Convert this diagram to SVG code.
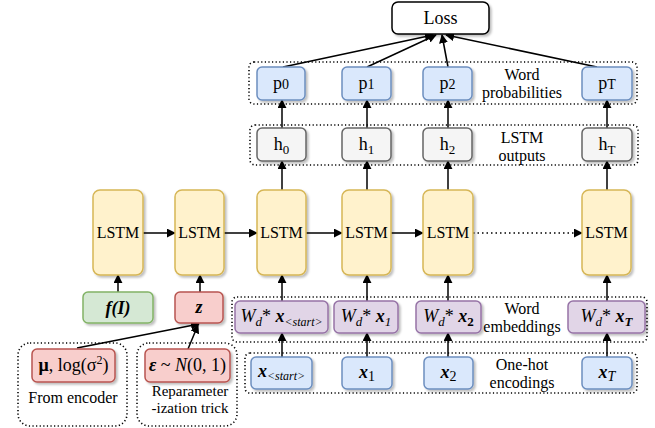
<svg xmlns="http://www.w3.org/2000/svg" width="655" height="428" viewBox="0 0 655 428" font-family="'Liberation Serif', 'Times New Roman', Times, serif">
<style>
text, tspan{font-family:"Liberation Serif","Times New Roman",Times,serif}
text{fill:#000}
.lbl{font-size:16px;text-anchor:middle}
.big{font-size:18px;text-anchor:middle}
.lstm{fill:#fff2cc;stroke:#d6b656;stroke-width:1.5}
.hb{fill:#f5f5f5;stroke:#666666;stroke-width:1.5}
.pb{fill:#dae8fc;stroke:#6c8ebf;stroke-width:1.5}
.eb{fill:#e1d5e7;stroke:#9673a6;stroke-width:1.5}
.gb{fill:#d5e8d4;stroke:#82b366;stroke-width:1.5}
.rb{fill:#f8cecc;stroke:#b85450;stroke-width:1.5}
.cont{fill:none;stroke:#000;stroke-width:1.6;stroke-dasharray:1.2 2.4}
.ar{fill:none;stroke:#000;stroke-width:1.5;marker-end:url(#ah)}
.ard{fill:none;stroke:#000;stroke-width:1.5;stroke-dasharray:1.5 3;marker-end:url(#ah)}
.sh{filter:url(#ds)}
</style>
<defs>
<marker id="ah" viewBox="0 0 10 10" refX="9" refY="5" markerWidth="6" markerHeight="6" markerUnits="strokeWidth" orient="auto">
<path d="M0,0 L10,5 L0,10 z" fill="#000"/>
</marker>
<filter id="ds" x="-20%" y="-20%" width="150%" height="150%">
<feDropShadow dx="2" dy="2" stdDeviation="1" flood-color="#000" flood-opacity="0.25"/>
</filter>
</defs>

<g id="containers">
<rect class="cont" x="249" y="62" width="388" height="42" rx="5"/>
<rect class="cont" x="250" y="125" width="388" height="40" rx="5"/>
<rect class="cont" x="232" y="297" width="415" height="45" rx="5"/>
<rect class="cont" x="245" y="353" width="392" height="40" rx="5"/>
<rect class="cont" x="18" y="343" width="109" height="83" rx="12"/>
<rect class="cont" x="137" y="343" width="100" height="83" rx="12"/>
</g>

<g id="connectors">
<path class="ar" d="M283,67 L433,35"/>
<path class="ar" d="M367,67 L436,35"/>
<path class="ar" d="M448,67 L442,35"/>
<path class="ar" d="M597,67 L446,35"/>
<path class="ar" d="M282,128 V100"/>
<path class="ar" d="M367,128 V100"/>
<path class="ar" d="M448,128 V100"/>
<path class="ar" d="M607,128 V100"/>
<path class="ar" d="M282,190 V161"/>
<path class="ar" d="M367,190 V161"/>
<path class="ar" d="M448,190 V161"/>
<path class="ar" d="M607,190 V161"/>
<path class="ar" d="M143,233 H175"/>
<path class="ar" d="M224,233 H257"/>
<path class="ar" d="M305,233 H342"/>
<path class="ar" d="M391,233 H423"/>
<path class="ard" d="M473,233 H582"/>
<path class="ar" d="M118,292 V275"/>
<path class="ar" d="M200,292 V275"/>
<path class="ar" d="M282,301 V275"/>
<path class="ar" d="M367,301 V275"/>
<path class="ar" d="M448,301 V275"/>
<path class="ar" d="M607,301 V275"/>
<path class="ar" d="M282,357 V333"/>
<path class="ar" d="M367,357 V333"/>
<path class="ar" d="M448,357 V333"/>
<path class="ar" d="M607,357 V333"/>
<path class="ar" d="M77,348 L199,324"/>
<path class="ar" d="M188,349 L198,325"/>
</g>

<g id="loss">
<rect x="392" y="2" width="97" height="32" rx="6" fill="#fff" stroke="#000" stroke-width="1.5" class="sh"/>
<text class="big" x="440.5" y="24">Loss</text>
</g>

<g id="p0"><rect class="pb sh" x="257" y="67" width="48" height="33" rx="5"/><text class="big" x="281" y="89">p<tspan font-size="14">0</tspan></text></g>
<g id="p1"><rect class="pb sh" x="342" y="67" width="49" height="33" rx="5"/><text class="big" x="366.5" y="89">p<tspan font-size="14">1</tspan></text></g>
<g id="p2"><rect class="pb sh" x="423" y="67" width="49" height="33" rx="5"/><text class="big" x="447.5" y="89">p<tspan font-size="14">2</tspan></text></g>
<g id="pT"><rect class="pb sh" x="582" y="67" width="50" height="33" rx="5"/><text class="big" x="607" y="89">p<tspan font-size="14">T</tspan></text></g>
<g id="lbl-prob"><text class="lbl" x="522" y="80">Word</text><text class="lbl" x="522" y="98">probabilities</text></g>

<g id="h0"><rect class="hb sh" x="257" y="128" width="49" height="33" rx="5"/><text class="big" x="281.5" y="150">h<tspan font-size="13" dy="4">0</tspan></text></g>
<g id="h1"><rect class="hb sh" x="342" y="128" width="49" height="33" rx="5"/><text class="big" x="366.5" y="150">h<tspan font-size="13" dy="4">1</tspan></text></g>
<g id="h2"><rect class="hb sh" x="423" y="128" width="49" height="33" rx="5"/><text class="big" x="447.5" y="150">h<tspan font-size="13" dy="4">2</tspan></text></g>
<g id="hT"><rect class="hb sh" x="582" y="128" width="50" height="33" rx="5"/><text class="big" x="607" y="150">h<tspan font-size="13" dy="4">T</tspan></text></g>
<g id="lbl-out"><text class="lbl" x="522" y="143">LSTM</text><text class="lbl" x="522" y="161">outputs</text></g>

<g id="lstm1"><rect class="lstm sh" x="93" y="190" width="50" height="85" rx="7"/><text class="lbl" x="118" y="238">LSTM</text></g>
<g id="lstm2"><rect class="lstm sh" x="175" y="190" width="49" height="85" rx="7"/><text class="lbl" x="199.5" y="238">LSTM</text></g>
<g id="lstm3"><rect class="lstm sh" x="257" y="190" width="49" height="85" rx="7"/><text class="lbl" x="281.5" y="238">LSTM</text></g>
<g id="lstm4"><rect class="lstm sh" x="342" y="190" width="49" height="85" rx="7"/><text class="lbl" x="366.5" y="238">LSTM</text></g>
<g id="lstm5"><rect class="lstm sh" x="423" y="190" width="50" height="85" rx="7"/><text class="lbl" x="448" y="238">LSTM</text></g>
<g id="lstm6"><rect class="lstm sh" x="582" y="190" width="49" height="85" rx="7"/><text class="lbl" x="606.5" y="238">LSTM</text></g>

<g id="fI"><rect class="gb sh" x="83" y="292" width="70" height="31" rx="5"/><text class="big" x="118" y="314" font-style="italic" font-weight="bold">f(I)</text></g>
<g id="z"><rect class="rb sh" x="175" y="292" width="48" height="31" rx="5"/><text class="big" x="199" y="313" font-style="italic" font-weight="bold">z</text></g>

<g id="e0"><rect class="eb sh" x="235" y="301" width="93" height="32" rx="5"/><text x="281.5" y="322" font-size="18" text-anchor="middle"><tspan font-style="italic">W</tspan><tspan font-style="italic" font-size="13" dy="4">d</tspan><tspan dy="-4">* </tspan><tspan font-style="italic" font-weight="bold">x</tspan><tspan font-style="italic" font-size="12" dy="4">&lt;start&gt;</tspan></text></g>
<g id="e1"><rect class="eb sh" x="334" y="301" width="64" height="32" rx="5"/><text x="366" y="322" font-size="18" text-anchor="middle"><tspan font-style="italic">W</tspan><tspan font-style="italic" font-size="13" dy="4">d</tspan><tspan dy="-4">* </tspan><tspan font-style="italic" font-weight="bold">x</tspan><tspan font-style="italic" font-size="13" dy="4">1</tspan></text></g>
<g id="e2"><rect class="eb sh" x="416" y="301" width="65" height="32" rx="5"/><text x="448.5" y="322" font-size="18" text-anchor="middle"><tspan font-style="italic">W</tspan><tspan font-style="italic" font-size="13" dy="4">d</tspan><tspan dy="-4">* </tspan><tspan font-style="italic" font-weight="bold">x</tspan><tspan font-size="13" font-weight="bold" dy="4">2</tspan></text></g>
<g id="eT"><rect class="eb sh" x="568" y="301" width="77" height="32" rx="5"/><text x="606.5" y="322" font-size="18" text-anchor="middle"><tspan font-style="italic">W</tspan><tspan font-style="italic" font-size="13" dy="4">d</tspan><tspan dy="-4">* </tspan><tspan font-style="italic" font-weight="bold">x</tspan><tspan font-style="italic" font-weight="bold" font-size="13" dy="4">T</tspan></text></g>
<g id="lbl-emb"><text class="lbl" x="522" y="314">Word</text><text class="lbl" x="522" y="332">embeddings</text></g>

<g id="x0"><rect class="pb sh" x="251" y="357" width="61" height="32" rx="5"/><text x="281.5" y="377" font-size="18" text-anchor="middle"><tspan font-style="italic" font-weight="bold">x</tspan><tspan font-style="italic" font-size="12" dy="3">&lt;start&gt;</tspan></text></g>
<g id="x1"><rect class="pb sh" x="342" y="357" width="50" height="32" rx="5"/><text x="367" y="378" font-size="18" text-anchor="middle"><tspan font-style="italic" font-weight="bold">x</tspan><tspan font-size="14" dy="3">1</tspan></text></g>
<g id="x2"><rect class="pb sh" x="424" y="357" width="49" height="32" rx="5"/><text x="448.5" y="378" font-size="18" text-anchor="middle"><tspan font-style="italic" font-weight="bold">x</tspan><tspan font-size="14" dy="3">2</tspan></text></g>
<g id="xT"><rect class="pb sh" x="582" y="357" width="50" height="32" rx="5"/><text x="607" y="378" font-size="18" text-anchor="middle"><tspan font-style="italic" font-weight="bold">x</tspan><tspan font-style="italic" font-size="14" dy="3">T</tspan></text></g>
<g id="lbl-onehot"><text class="lbl" x="522" y="370">One-hot</text><text class="lbl" x="522" y="388">encodings</text></g>

<g id="mu"><rect class="rb sh" x="32" y="349" width="83" height="33" rx="5"/><text x="73.5" y="371" font-size="18" text-anchor="middle"><tspan font-weight="bold">μ</tspan>, log(σ<tspan font-size="12" dy="-7">2</tspan><tspan dy="7">)</tspan></text></g>
<g id="lbl-enc"><text class="lbl" x="73" y="403">From encoder</text></g>

<g id="eps"><rect class="rb sh" x="145" y="349" width="85" height="33" rx="5"/><text x="187.5" y="371" font-size="18" text-anchor="middle"><tspan font-weight="bold" font-style="italic">ε</tspan> ~ <tspan font-style="italic">N</tspan>(0, 1)</text></g>
<g id="lbl-rep"><text x="190" y="396" font-size="15" text-anchor="middle">Reparameter</text><text x="190" y="413" font-size="15" text-anchor="middle">-ization trick</text></g>
</svg>
